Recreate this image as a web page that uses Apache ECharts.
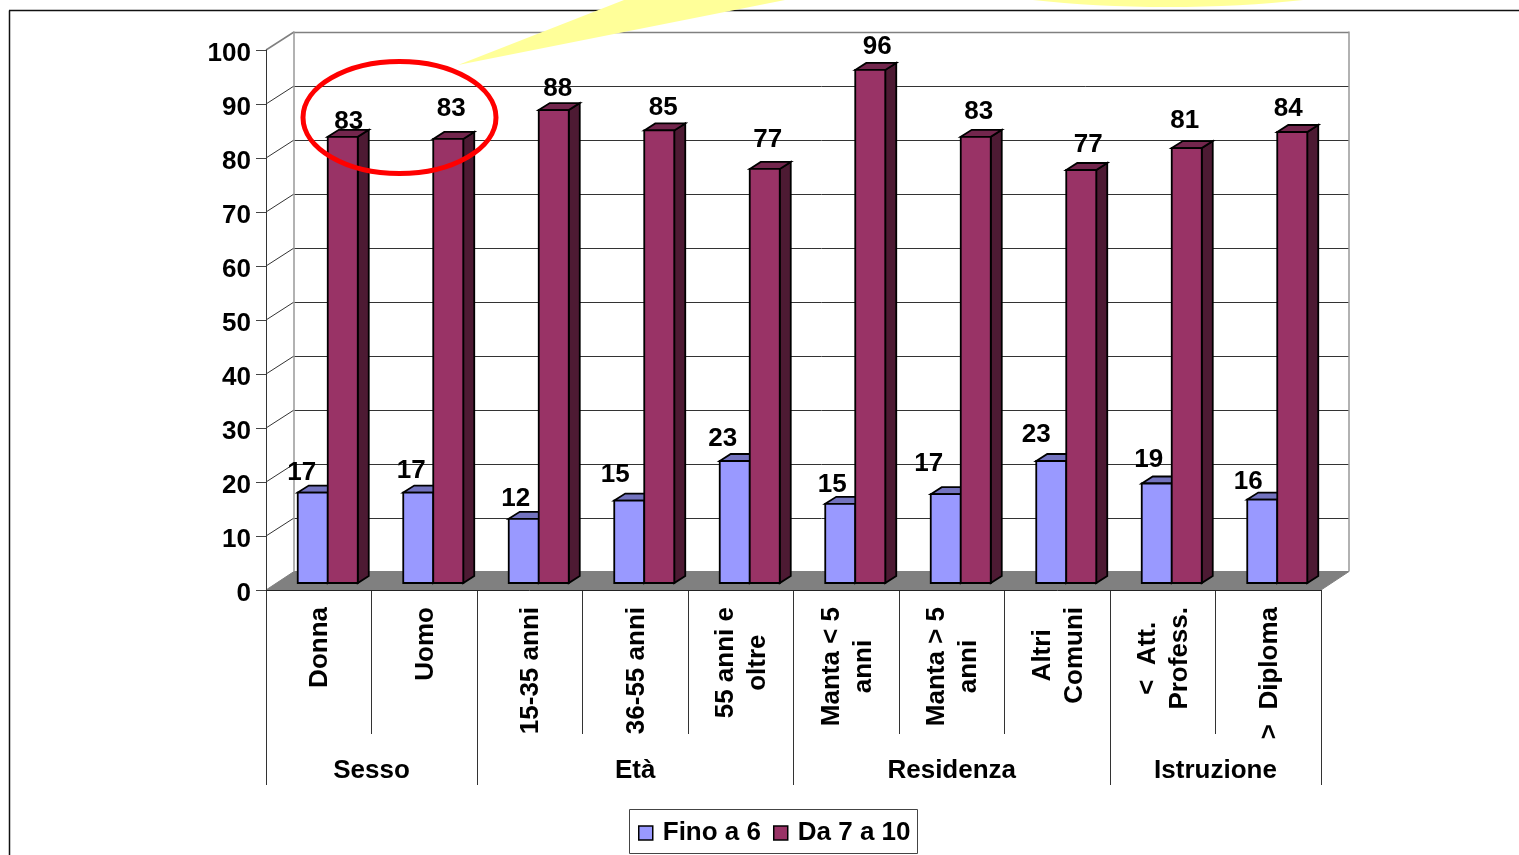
<!DOCTYPE html>
<html><head><meta charset="utf-8">
<style>html,body{margin:0;padding:0;background:#fff}#c{width:1519px;height:855px}</style>
<script src="https://cdn.jsdelivr.net/npm/echarts@6/dist/echarts.min.js"></script>
</head><body><div id="c"></div>
<script>
const categories = ['Donna','Uomo','15-35 anni','36-55 anni','55 anni e\noltre','Manta < 5\nanni','Manta > 5\nanni','Altri\nComuni','<  Att.\nProfess.','>  Diploma'];
const groupNames = ['Sesso','Età','Residenza','Istruzione'];
const groupSizes = [2,3,3,2];
const fino = [16.9,16.9,12.0,15.4,22.8,14.8,16.6,22.8,18.6,15.6];
const da = [83.4,83.0,88.4,84.6,77.4,95.9,83.4,77.2,81.3,84.3];
const yTicks = [0,10,20,30,40,50,60,70,80,90,100];
const seriesNames = ['Fino a 6','Da 7 a 10'];

// hand-placed data label nudges, as in the source slide
const finoNudge = [[-11,-20],[-7,-22],[-8,-20],[-14,-26],[-12,-22],[-8,-19],[-17,-30],[-15,-26],[-8,-24],[-14,-18]];
const daNudge = [[6,-15],[3,-30],[4,-21],[4,-23],[3,-29],[7,-23],[3,-25],[7,-25],[-2,-27],[-4,-23]];

const FONT = '"Liberation Sans", Arial, sans-serif';
const NUM = 26, TXT = 26;
const DX = 11, DY = -7, BW = 30;
const WX = 28, WY = -18.5;
const measure = document.createElement('canvas').getContext('2d');
function textWidth(s){ measure.font = 'bold '+TXT+'px '+FONT; return Math.max.apply(null, s.split('\n').map(l=>measure.measureText(l).width)); }

function barRenderer(side, nudge, front, top, dark){
  return function(params, api){
    const i = api.value(0), v = api.value(1);
    const t = api.coord([i, v]), b = api.coord([i, 0]);
    const x0 = side < 0 ? t[0]-BW : t[0], x1 = x0+BW;
    const stroke = {stroke:'#000', lineWidth:1.8, lineJoin:'miter'};
    return {type:'group', children:[
      {type:'polygon', shape:{points:[[x1,t[1]],[x1+DX,t[1]+DY],[x1+DX,b[1]+DY],[x1,b[1]]]}, style:Object.assign({fill:dark},stroke)},
      {type:'polygon', shape:{points:[[x0,t[1]],[x0+DX,t[1]+DY],[x1+DX,t[1]+DY],[x1,t[1]]]}, style:Object.assign({fill:top},stroke)},
      {type:'rect', shape:{x:x0,y:t[1],width:BW,height:b[1]-t[1]}, style:Object.assign({fill:front},stroke)},
      {type:'text', z2:50, style:{text:String(Math.round(v)), x:(x0+x1)/2+nudge[i][0], y:t[1]+nudge[i][1], align:'center', verticalAlign:'middle', fontFamily:FONT, fontWeight:'bold', fontSize:NUM, fill:'#000'}}
    ]};
  };
}

function wallRenderer(params, api){
  const v = api.value(0);
  const band = api.size([1,0])[0];
  const p = api.coord([0, v]);
  const x0 = Math.round(p[0]-band/2), y = p[1];
  const x1 = x0 + band*categories.length;
  const children = [];
  if (v === 0) {
    children.push({type:'polygon', shape:{points:[[x0,y],[x1,y],[x1+WX,y+WY],[x0+WX,y+WY]]}, style:{fill:'#808080', stroke:'#808080', lineWidth:1}});
  } else {
    const c = v === 100 ? '#808080' : '#333';
    const w = v === 100 ? 1.5 : 1;
    children.push({type:'line', shape:{x1:x0,y1:y,x2:x0+WX,y2:Math.round(y+WY)}, style:{stroke:c, lineWidth:w}});
    children.push({type:'line', shape:{x1:x0+WX,y1:Math.round(y+WY)+.5,x2:x1+WX,y2:Math.round(y+WY)+.5}, style:{stroke:c, lineWidth:w}});
  }
  if (v === 100) {
    const y0 = api.coord([0,0])[1];
    children.push({type:'line', shape:{x1:x0+WX,y1:y+WY,x2:x0+WX,y2:y0+WY}, style:{stroke:'#999', lineWidth:1.5}});
    children.push({type:'line', shape:{x1:x1+WX,y1:y+WY,x2:x1+WX,y2:y0+WY}, style:{stroke:'#999', lineWidth:1.5}});
  }
  return {type:'group', children};
}

function axisRenderer(params, api){
  const i = api.value(0);
  const band = api.size([1,0])[0];
  const p = api.coord([i, 0]);
  const cx = p[0], y0 = p[1], left = cx-band/2, right = cx+band/2;
  const children = [];
  const sep = (x,long)=>({type:'line', shape:{x1:Math.floor(x)+.5,y1:y0,x2:Math.floor(x)+.5,y2:y0+(long?195:144)}, style:{stroke:'#333', lineWidth:1}});
  let gi = -1;
  for (let g=0,s=0;g<groupSizes.length;g++){ if (i===s) gi=g; s+=groupSizes[g]; }
  children.push(sep(left, gi>=0));
  if (i === categories.length-1) children.push(sep(right, true));
  if (gi>=0) children.push({type:'text', style:{text:groupNames[gi], x:left+band*groupSizes[gi]/2, y:y0+181, align:'center', verticalAlign:'middle', fontFamily:FONT, fontWeight:'bold', fontSize:TXT, fill:'#000'}});
  const name = categories[i];
  const w = textWidth(name);
  children.push({type:'text', x:cx+1.5, y:y0+17+w/2, rotation:Math.PI/2, style:{text:name, x:0, y:0, align:'center', verticalAlign:'middle', lineHeight:32, fontFamily:FONT, fontWeight:'bold', fontSize:TXT, fill:'#000'}});
  return {type:'group', children};
}

const chart = echarts.init(document.getElementById('c'));
chart.setOption({
  animation:false,
  backgroundColor:'#fff',
  grid:[
    {left:266, width:1055, top:50, height:540},
    {left:275, width:1055, top:48, height:535}
  ],
  xAxis:[
    {gridIndex:0, type:'category', data:categories, z:10, axisLabel:{show:false}, axisTick:{show:false}, axisLine:{lineStyle:{color:'#222',width:1}}},
    {gridIndex:1, type:'category', data:categories, show:false}
  ],
  yAxis:[
    {gridIndex:0, type:'value', min:0, max:100, interval:10, z:10, splitLine:{show:false},
     axisLine:{show:true, lineStyle:{color:'#333',width:1}}, axisTick:{show:true,length:10,lineStyle:{color:'#444',width:1}},
     axisLabel:{margin:15, verticalAlign:'top', lineHeight:8, fontFamily:FONT, fontWeight:'bold', fontSize:NUM, color:'#000'}},
    {gridIndex:1, type:'value', min:0, max:100, show:false}
  ],
  legend:{
    left:629, top:812, padding:[8,7,8,9], itemGap:12, itemWidth:14, itemHeight:14, icon:'rect',
    data:seriesNames, textStyle:{fontFamily:FONT, fontWeight:'bold', fontSize:TXT, color:'#000', padding:[8,0,0,5]},
    itemStyle:{borderColor:'#000',borderWidth:1.5}
  },
  series:[
    {type:'custom', name:'walls', xAxisIndex:0, yAxisIndex:0, z:1, silent:true, data:yTicks.map(v=>[v]), encode:{y:0}, renderItem:wallRenderer},
    {type:'custom', name:'axis', xAxisIndex:0, yAxisIndex:0, z:3, silent:true, data:categories.map((c,i)=>[i]), encode:{x:0}, renderItem:axisRenderer},
    {type:'custom', name:seriesNames[0], xAxisIndex:1, yAxisIndex:1, z:4, itemStyle:{color:'#9999FF'}, data:fino.map((v,i)=>[i,v]), encode:{x:0,y:1}, renderItem:barRenderer(-1,finoNudge,'#9999FF','#7373BF','#4D4D80')},
    {type:'custom', name:seriesNames[1], xAxisIndex:1, yAxisIndex:1, z:5, itemStyle:{color:'#993366'}, data:da.map((v,i)=>[i,v]), encode:{x:0,y:1}, renderItem:barRenderer(1,daNudge,'#993366','#73264D','#4D1A33')}
  ],
  graphic:[
    {type:'line', z:0, silent:true, shape:{x1:9.5,y1:855,x2:9.5,y2:10.5}, style:{stroke:'#111',lineWidth:1.5}},
    {type:'line', z:0, silent:true, shape:{x1:9,y1:10.5,x2:1519,y2:10.5}, style:{stroke:'#111',lineWidth:1.5}},
    {type:'rect', z:0, silent:true, shape:{x:629.5,y:809.5,width:288,height:44}, style:{fill:'none',stroke:'#444',lineWidth:1}},
    {type:'polygon', z:100, silent:true, shape:{points:[[458,65],[624,0],[785,0]]}, style:{fill:'#FFFF99'}},
    {type:'ellipse', z:100, silent:true, shape:{cx:1168,cy:-53,rx:288,ry:60}, style:{fill:'#FFFF99'}},
    {type:'ellipse', z:101, silent:true, shape:{cx:399.5,cy:117.5,rx:96.5,ry:56}, style:{fill:'none',stroke:'#FF0000',lineWidth:5}}
  ]
});
</script></body></html>
